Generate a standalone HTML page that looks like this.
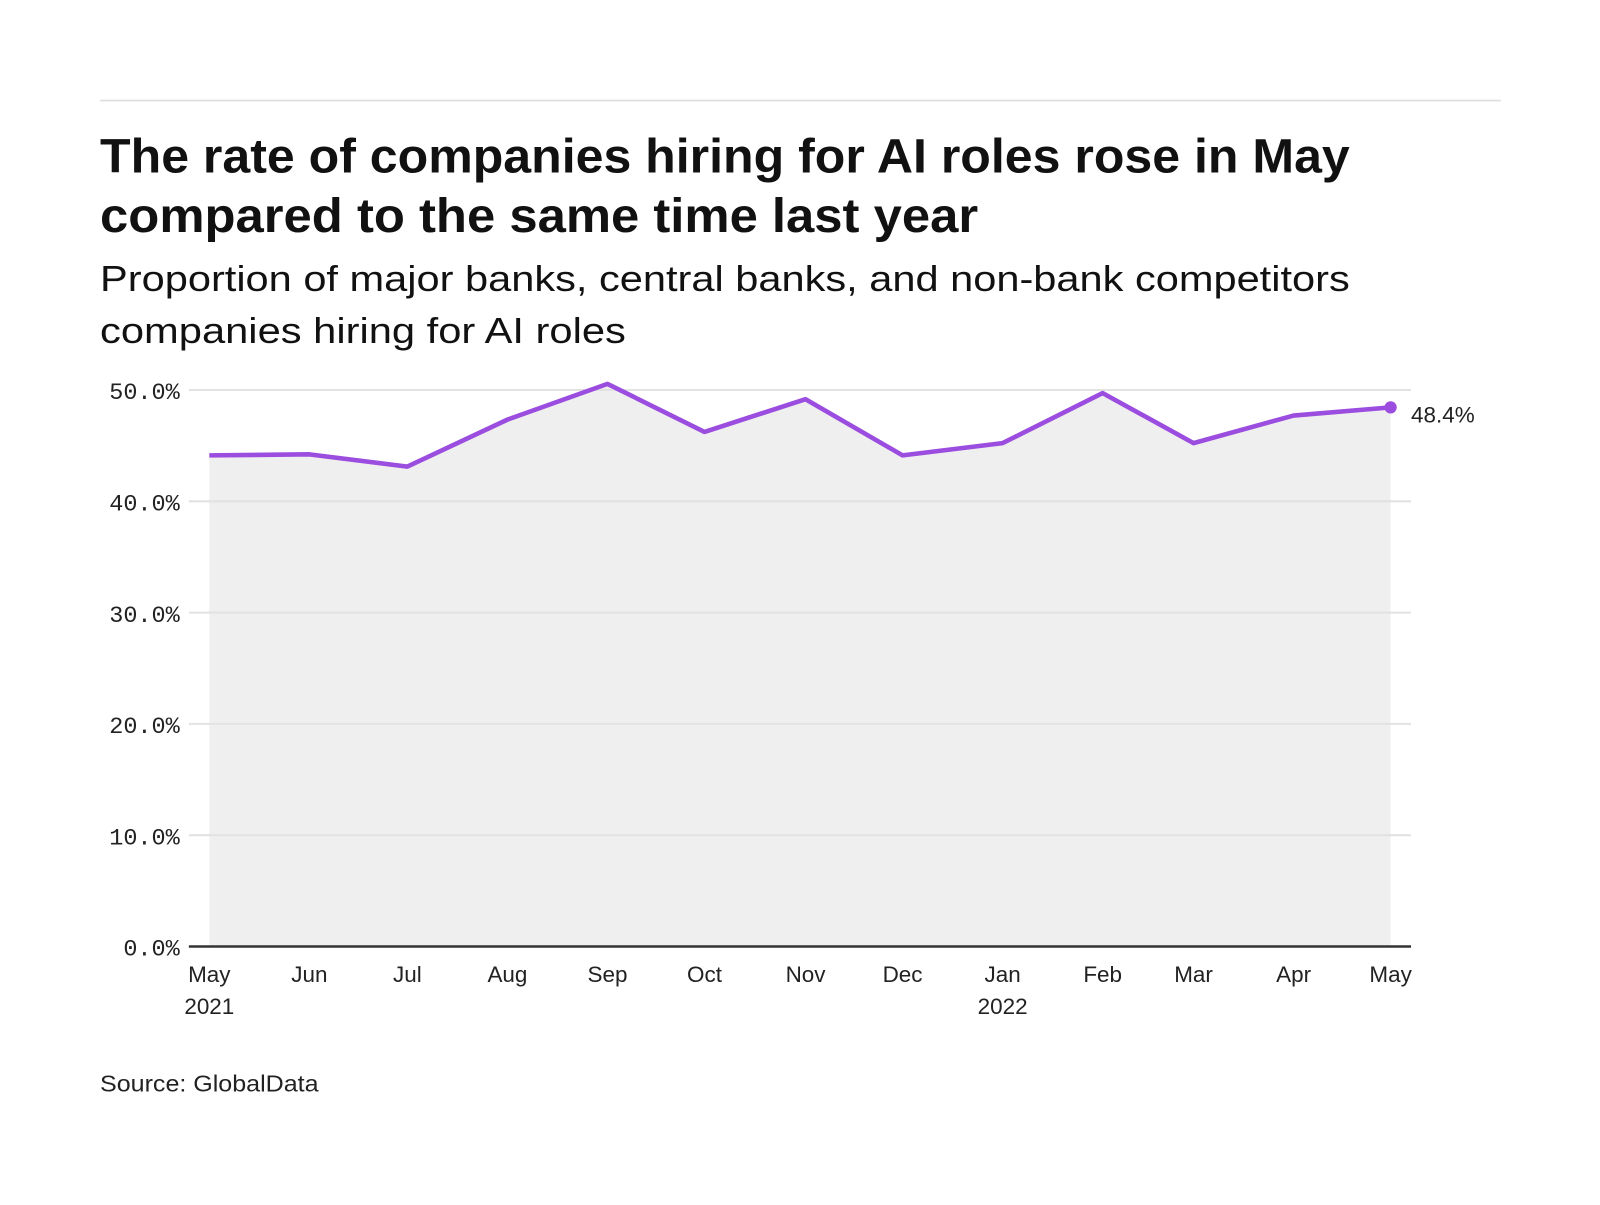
<!DOCTYPE html>
<html><head><meta charset="utf-8"><style>
body{margin:0;background:#fff;width:1600px;height:1200px;overflow:hidden;font-family:"Liberation Sans",sans-serif;}
</style></head><body>
<svg width="1600" height="1200" xmlns="http://www.w3.org/2000/svg">
<g transform="scale(1.021)">
<line x1="98" y1="98.5" x2="1470" y2="98.5" stroke="#ddd" stroke-width="1.5"/>
<text x="98" y="169" font-family="Liberation Sans, sans-serif" font-weight="bold" font-size="47" fill="#111" textLength="1224" lengthAdjust="spacingAndGlyphs">The rate of companies hiring for AI roles rose in May</text>
<text x="98" y="227" font-family="Liberation Sans, sans-serif" font-weight="bold" font-size="47" fill="#111" textLength="860" lengthAdjust="spacingAndGlyphs">compared to the same time last year</text>
<text x="98" y="285" font-family="Liberation Sans, sans-serif" font-size="35" fill="#111" textLength="1224" lengthAdjust="spacingAndGlyphs">Proportion of major banks, central banks, and non-bank competitors</text>
<text x="98" y="336" font-family="Liberation Sans, sans-serif" font-size="35" fill="#111" textLength="515" lengthAdjust="spacingAndGlyphs">companies hiring for AI roles</text>
<polygon fill="#efefef" points="205,927 205,446 303,445 399,457 497,411 595,376 690,423 789,391 884,446 982,434 1080,385 1169,434 1267,407 1362,399 1362,927"/>
<g stroke="#e2e2e2" stroke-width="2">
<line x1="185" y1="382" x2="1382" y2="382"/>
<line x1="185" y1="491" x2="1382" y2="491"/>
<line x1="185" y1="600" x2="1382" y2="600"/>
<line x1="185" y1="709" x2="1382" y2="709"/>
<line x1="185" y1="818" x2="1382" y2="818"/>
</g>
<line x1="185" y1="927" x2="1382" y2="927" stroke="#333" stroke-width="2.5"/>
<g font-family="Liberation Mono, monospace" font-size="23" fill="#222" text-anchor="end">
<text x="176" y="391">50.0%</text>
<text x="176" y="500">40.0%</text>
<text x="176" y="609">30.0%</text>
<text x="176" y="718">20.0%</text>
<text x="176" y="827">10.0%</text>
<text x="176" y="936">0.0%</text>
</g>
<polyline fill="none" stroke="#9b4ddf" stroke-width="4.5" stroke-linejoin="round" points="205,446 303,445 399,457 497,411 595,376 690,423 789,391 884,446 982,434 1080,385 1169,434 1267,407 1362,399"/>
<circle cx="1362" cy="399" r="6" fill="#9b4ddf"/>
<text x="1382" y="414" font-size="22" fill="#222">48.4%</text>
<g font-size="22" fill="#222" text-anchor="middle">
<text x="205" y="962">May</text><text x="205" y="993">2021</text>
<text x="303" y="962">Jun</text><text x="399" y="962">Jul</text><text x="497" y="962">Aug</text>
<text x="595" y="962">Sep</text><text x="690" y="962">Oct</text><text x="789" y="962">Nov</text>
<text x="884" y="962">Dec</text><text x="982" y="962">Jan</text><text x="982" y="993">2022</text>
<text x="1080" y="962">Feb</text><text x="1169" y="962">Mar</text><text x="1267" y="962">Apr</text>
<text x="1362" y="962">May</text>
</g>
<text x="98" y="1069" font-size="23" fill="#222" textLength="214" lengthAdjust="spacingAndGlyphs">Source: GlobalData</text>
</g>
</svg>
</body></html>
